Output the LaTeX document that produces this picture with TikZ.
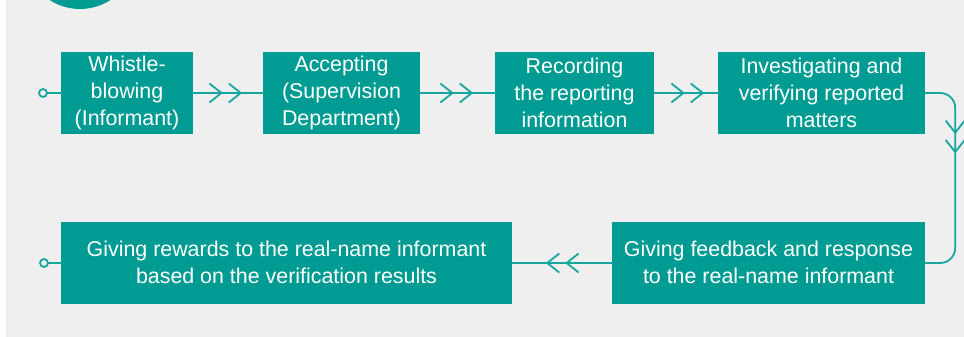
\documentclass[tikz,border=0pt]{standalone}
\usepackage{fontspec}
\setmainfont{Liberation Sans}
\usetikzlibrary{arrows.meta, positioning, decorations.markings}
\definecolor{FlowPaper}{RGB}{239, 239, 239}
\definecolor{FlowTeal}{RGB}{0, 155, 146}
\definecolor{FlowLine}{RGB}{22, 166, 157}

\tikzset{
  stepbox/.style={fill=FlowTeal, text=white, inner sep=0pt, align=center,
    minimum height=82pt, font=\fontsize{21.4}{27}\selectfont,
    execute at begin node={\rule[-1pt]{0pt}{24pt}},
    execute at end node={\rule[-1pt]{0pt}{24pt}}},
  flow/.style={draw=FlowLine, line width=1.8pt, postaction={decorate},
    decoration={markings, mark=at position #1 with {\arrow[FlowLine]{Straight Barb[length=12pt,width=19pt,line width=1.8pt,sep=5pt] Straight Barb[length=12pt,width=19pt,line width=1.8pt]}}}},
  startdot/.style={draw=FlowLine, fill=FlowPaper, line width=1.8pt},
}

\begin{document}
\begin{tikzpicture}[x=1pt,y=-1pt]
  \path[use as bounding box] (0,0) rectangle (964,337);
  \clip (0,0) rectangle (964,337);

  % Paper
  \fill[FlowPaper] (6,0) rectangle (964,337);
  \fill[FlowTeal] (80,-47) circle (56);

  % Upper row
  \foreach \nm/\cx/\bw/\txt in {
    p1/127/132/{Whistle-\\blowing\\(Informant)},
    p2/341.5/157/{Accepting\\(Supervision\\Department)},
    p3/574.5/159/{Recording\\the reporting\\information},
    p4/821.5/207/{Investigating and\\verifying reported\\matters}}{
    \node[stepbox, minimum width=\bw pt] (\nm) at (\cx,93) {\txt};
  }

  % Lower row
  \node[stepbox, minimum width=313pt] (p5) at (768.5,263)
    {Giving feedback and response\\to the real-name informant};
  \node[stepbox, minimum width=451pt] (p6) at (286.5,263)
    {Giving rewards to the real-name informant\\based on the verification results};

  % Connectors
  \coordinate (s1) at (43,93);
  \coordinate (s2) at (44,263);
  \draw[draw=FlowLine, line width=1.8pt] (s1) -- (p1.west);
  \draw[draw=FlowLine, line width=1.8pt] (s2) -- (p6.west);
  \draw[startdot] (s1) circle (4);
  \draw[startdot] (s2) circle (4);

  \draw[flow=49pt] (p1) -- (p2);
  \draw[flow=53pt] (p2) -- (p3);
  \draw[flow=50pt] (p3) -- (p4);
  \draw[flow=84pt, rounded corners=15pt] (p4.east) -- ++(30,0) |- (p5.east);
  \draw[flow=66pt] (p5) -- (p6);
\end{tikzpicture}
\end{document}
